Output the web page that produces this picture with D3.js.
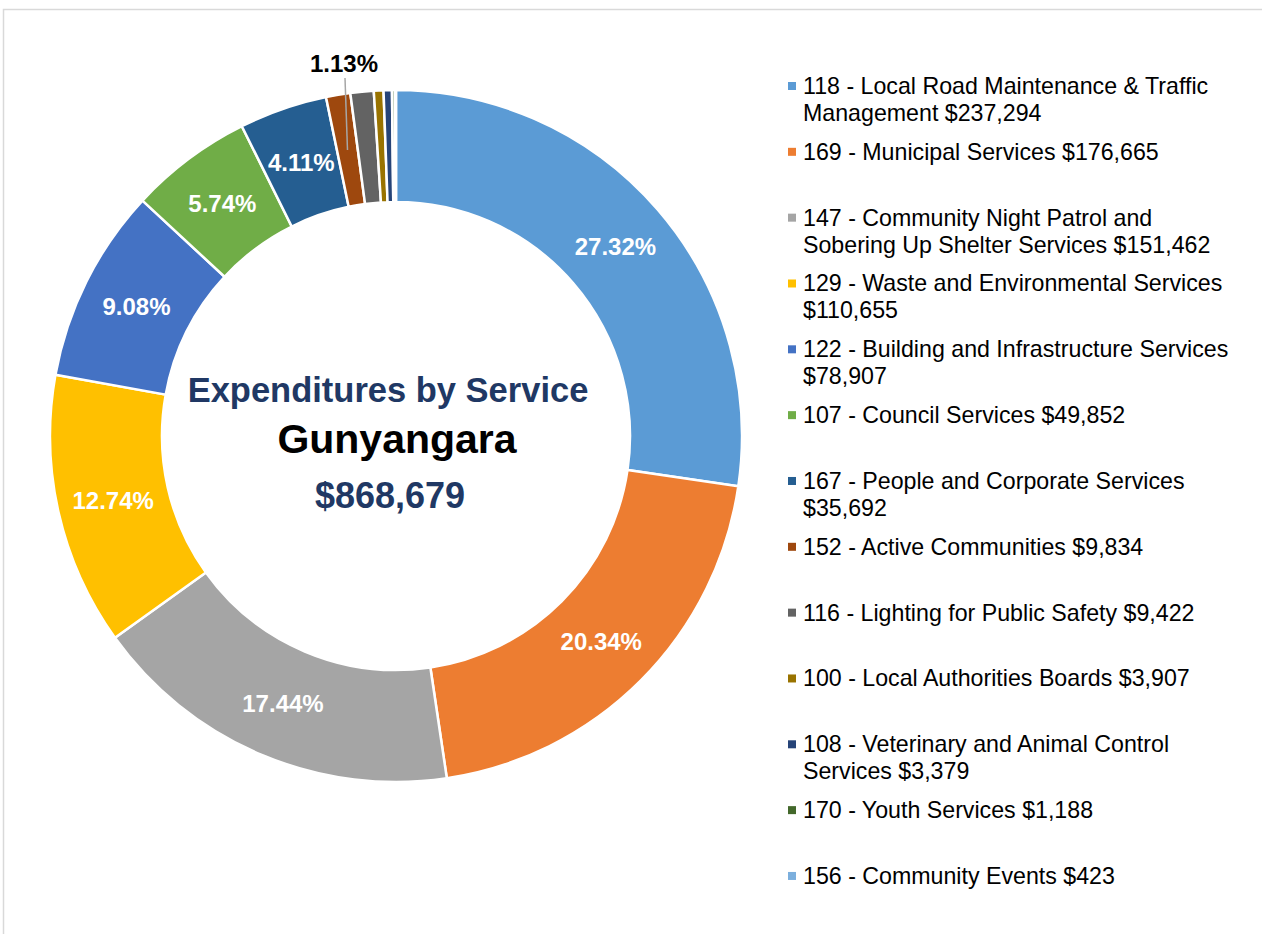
<!DOCTYPE html>
<html>
<head>
<meta charset="utf-8">
<script src="https://cdn.jsdelivr.net/npm/d3@7"></script>
<style>
  body { margin: 0; background: #fff; }
  text { font-family: "Liberation Sans", Arial, sans-serif; }
</style>
</head>
<body>
<div id="main"></div>
<script>
var width = 1262;
var height = 934;

// data
var codes = ['118', '169', '147', '129', '122', '107', '167', '152', '116', '100', '108', '170', '156'];
var values = [237294, 176665, 151462, 110655, 78907, 49852, 35692, 9834, 9422, 3907, 3379, 1188, 423];
var colors = ['#5B9BD5', '#ED7D31', '#A5A5A5', '#FFC000', '#4472C4', '#70AD47', '#255E91',
              '#9E480E', '#636363', '#997300', '#264478', '#43682B', '#7CAFDD'];
var legendLines = [
    ['118 - Local Road Maintenance & Traffic', 'Management $237,294'],
    ['169 - Municipal Services $176,665'],
    ['147 - Community Night Patrol and', 'Sobering Up Shelter Services $151,462'],
    ['129 - Waste and Environmental Services', '$110,655'],
    ['122 - Building and Infrastructure Services', '$78,907'],
    ['107 - Council Services $49,852'],
    ['167 - People and Corporate Services', '$35,692'],
    ['152 - Active Communities $9,834'],
    ['116 - Lighting for Public Safety $9,422'],
    ['100 - Local Authorities Boards $3,907'],
    ['108 - Veterinary and Animal Control', 'Services $3,379'],
    ['170 - Youth Services $1,188'],
    ['156 - Community Events $423']
];
var titleLine = 'Expenditures by Service';
var placeName = 'Gunyangara';
var totalLabel = '$868,679';

var cx = 396, cy = 436;
var outerR = 346, innerR = 234;

var svg = d3.select('#main').append('svg')
    .attr('width', width)
    .attr('height', height);

// chart border (top and left edges visible)
svg.append('path')
    .attr('d', 'M3.5,' + height + ' L3.5,9.5 L' + width + ',9.5')
    .style('fill', 'none')
    .style('stroke', '#d9d9d9')
    .style('stroke-width', 1.5);

var total = d3.sum(values);
var data = values.map(function(v, i) {
    return {code: codes[i], value: v, color: colors[i], idx: i};
});

var pie = d3.pie()
    .sort(null)
    .value(function(d) { return d.value; });

var arc = d3.arc().innerRadius(innerR).outerRadius(outerR);
var labelArc = d3.arc().innerRadius(290).outerRadius(290);

var chart = svg.append('g')
    .attr('transform', `translate(${cx}, ${cy})`);

var arcs = pie(data);

chart.selectAll('.slice')
    .data(arcs)
    .enter()
    .append('path')
    .attr('class', 'slice')
    .attr('d', arc)
    .style('fill', function(d) { return d.data.color; })
    .style('stroke', '#fff')
    .style('stroke-width', 2.5);

// percent labels inside the ring for the larger slices
chart.selectAll('.pct')
    .data(arcs.filter(function(d) { return d.data.value / total > 0.03; }))
    .enter()
    .append('text')
    .attr('class', 'pct')
    .attr('transform', function(d) {
        var c = labelArc.centroid(d);
        return `translate(${c[0]}, ${c[1]})`;
    })
    .attr('text-anchor', 'middle')
    .attr('dy', '0.36em')
    .style('fill', '#fff')
    .style('font-weight', 'bold')
    .style('font-size', '24px')
    .text(function(d) { return (d.data.value / total * 100).toFixed(2) + '%'; });

// 1.13% callout for Active Communities
var ac = arcs[7];
var acMid = (ac.startAngle + ac.endAngle) / 2;
var acIn = 290;
chart.append('line')
    .attr('x1', -51)
    .attr('y1', -358)
    .attr('x2', Math.sin(acMid) * acIn)
    .attr('y2', -Math.cos(acMid) * acIn)
    .style('stroke', '#a6a6a6')
    .style('stroke-width', 1.5);
chart.append('text')
    .attr('x', -52)
    .attr('y', -364)
    .attr('text-anchor', 'middle')
    .style('fill', '#000')
    .style('font-weight', 'bold')
    .style('font-size', '24px')
    .text((ac.data.value / total * 100).toFixed(2) + '%');

// centre text
chart.append('text')
    .attr('x', -8)
    .attr('y', -34)
    .attr('text-anchor', 'middle')
    .style('fill', '#203864')
    .style('font-weight', 'bold')
    .style('font-size', '34.5px')
    .text(titleLine);
chart.append('text')
    .attr('x', 1)
    .attr('y', 17)
    .attr('text-anchor', 'middle')
    .style('fill', '#000')
    .style('font-weight', 'bold')
    .style('font-size', '41px')
    .text(placeName);
chart.append('text')
    .attr('x', -6)
    .attr('y', 72)
    .attr('text-anchor', 'middle')
    .style('fill', '#203864')
    .style('font-weight', 'bold')
    .style('font-size', '36px')
    .text(totalLabel);

// legend
var legendX = 788, legendTop = 94, legendStep = 65.83, lineH = 27;
var legend = svg.selectAll('.legend')
    .data(data)
    .enter()
    .append('g')
    .attr('class', 'legend')
    .attr('transform', function(d, i) {
        return `translate(${legendX}, ${legendTop + i * legendStep})`;
    });

legend.append('rect')
    .attr('x', 0)
    .attr('y', -12)
    .attr('width', 8)
    .attr('height', 8)
    .style('fill', function(d) { return d.color; });

legend.append('text')
    .attr('x', 15)
    .attr('y', 0)
    .style('fill', '#000')
    .style('font-size', '23.2px')
    .each(function(d, i) {
        var t = d3.select(this);
        legendLines[i].forEach(function(line, j) {
            t.append('tspan')
                .attr('x', 15)
                .attr('y', j * lineH)
                .text(line);
        });
    });
</script>
</body>
</html>
